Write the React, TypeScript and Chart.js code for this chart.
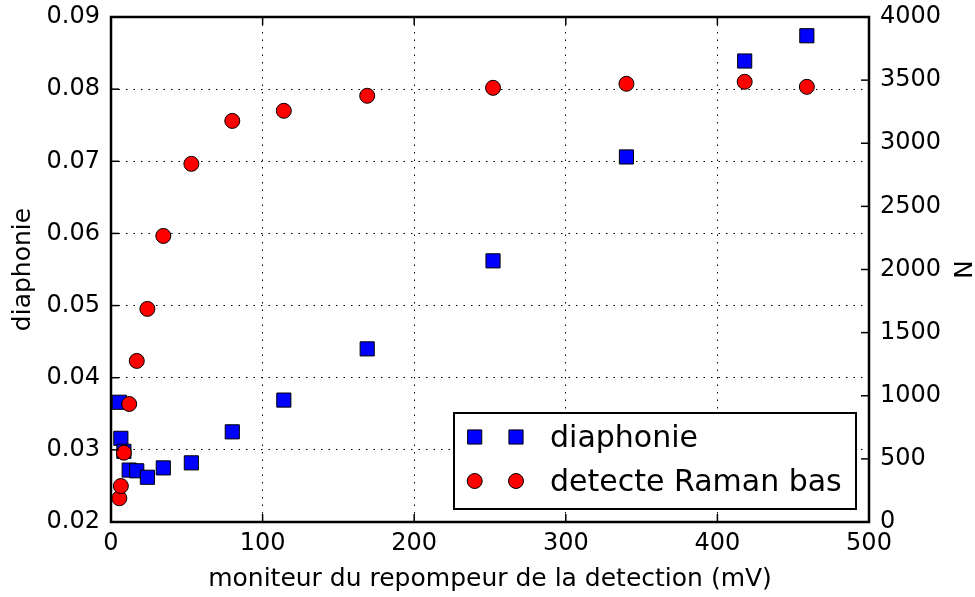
import React, { useEffect, useRef } from "react";
import { Chart, registerables } from "chart.js";

Chart.register(...registerables);

// Shared x values (mV)
const xValues = [5.5, 6.5, 8.5, 12, 17, 24, 34.5, 53, 80, 114, 169, 252, 340, 418, 459];
// diaphonie (left axis)
const diaphonieValues = [0.0366, 0.0316, 0.0298, 0.0272, 0.0271, 0.0262, 0.0275, 0.0282, 0.0325, 0.0369, 0.0440, 0.0562, 0.0706, 0.0839, 0.0874];
// detecte Raman bas (right axis, N)
const ramanValues = [188, 285, 549, 935, 1276, 1688, 2266, 2837, 3177, 3257, 3376, 3439, 3471, 3487, 3447];

const seriesLabels = ["diaphonie", "detecte Raman bas"];
const xTitle = "moniteur du repompeur de la detection (mV)";
const yLeftTitle = "diaphonie";
const yRightTitle = "N";

const FONT = "'DejaVu Sans', sans-serif";

const noPad = (s: any) => {
  s.paddingTop = 0;
  s.paddingBottom = 0;
  s.paddingLeft = 0;
  s.paddingRight = 0;
};

const framePlugin = {
  id: "framePlugin",
  afterDatasetsDraw(chart: any) {
    const { ctx, chartArea, scales } = chart;
    const { left, right, top, bottom } = chartArea;
    ctx.save();
    ctx.strokeStyle = "#000";
    // inward ticks
    ctx.lineWidth = 1.5;
    const tl = 8;
    const xs = scales.x;
    xs.ticks.forEach((t: any) => {
      const px = xs.getPixelForValue(t.value);
      ctx.beginPath();
      ctx.moveTo(px, bottom);
      ctx.lineTo(px, bottom - tl);
      ctx.moveTo(px, top);
      ctx.lineTo(px, top + tl);
      ctx.stroke();
    });
    const yl = scales.y;
    yl.ticks.forEach((t: any) => {
      const py = yl.getPixelForValue(t.value);
      ctx.beginPath();
      ctx.moveTo(left, py);
      ctx.lineTo(left + tl, py);
      ctx.stroke();
    });
    const yr = scales.y1;
    yr.ticks.forEach((t: any) => {
      const py = yr.getPixelForValue(t.value);
      ctx.beginPath();
      ctx.moveTo(right, py);
      ctx.lineTo(right - tl, py);
      ctx.stroke();
    });
    // frame
    ctx.lineWidth = 2.5;
    ctx.strokeRect(left, top, right - left, bottom - top);

    // legend (lower right, inside)
    const boxW = 402;
    const boxH = 96;
    const bx = right - 13 - boxW;
    const by = bottom - 13 - boxH;
    ctx.fillStyle = "#fff";
    ctx.fillRect(bx, by, boxW, boxH);
    ctx.lineWidth = 2;
    ctx.strokeRect(bx, by, boxW, boxH);
    const rows = [24, 68];
    chart.data.datasets.forEach((ds: any, i: number) => {
      const cy = by + rows[i];
      [20.7, 62].forEach((dx) => {
        const cx = bx + dx;
        ctx.fillStyle = ds.backgroundColor;
        ctx.strokeStyle = "#000";
        ctx.lineWidth = 1;
        ctx.beginPath();
        if (ds.pointStyle === "rect") {
          const s = Math.SQRT1_2 * ds.pointRadius;
          ctx.rect(cx - s, cy - s, 2 * s, 2 * s);
        } else {
          ctx.arc(cx, cy, ds.pointRadius, 0, Math.PI * 2);
        }
        ctx.fill();
        ctx.stroke();
      });
      ctx.fillStyle = "#000";
      ctx.font = `30px ${FONT}`;
      ctx.textAlign = "left";
      ctx.textBaseline = "alphabetic";
      ctx.fillText(ds.label, bx + 96, cy + 10);
    });
    ctx.restore();
  },
};

export default function App() {
  const ref = useRef<HTMLCanvasElement | null>(null);
  useEffect(() => {
    if (!ref.current) return;
    const chart = new Chart(ref.current, {
      type: "scatter",
      data: {
        datasets: [
          {
            label: seriesLabels[0],
            data: xValues.map((x, i) => ({ x, y: diaphonieValues[i] })),
            yAxisID: "y",
            pointStyle: "rect",
            pointRadius: 10,
            pointHoverRadius: 10,
            backgroundColor: "#0000ff",
            borderColor: "#000",
            borderWidth: 1,
            order: 1,
          },
          {
            label: seriesLabels[1],
            data: xValues.map((x, i) => ({ x, y: ramanValues[i] })),
            yAxisID: "y1",
            pointStyle: "circle",
            pointRadius: 7.5,
            pointHoverRadius: 7.5,
            backgroundColor: "#ff0000",
            borderColor: "#000",
            borderWidth: 1,
            order: 0,
          },
        ],
      },
      options: {
        responsive: false,
        animation: false,
        events: [],
        layout: { padding: { top: 17, left: 0, right: 0, bottom: 0 } },
        plugins: { legend: { display: false }, tooltip: { enabled: false } },
        scales: {
          x: {
            type: "linear",
            position: "bottom",
            min: 0,
            max: 500,
            afterFit: (s: any) => { s.height = 75; noPad(s); },
            ticks: { stepSize: 100, color: "#000", font: { family: FONT, size: 24 }, padding: 7, maxRotation: 0 },
            grid: { color: "#000", lineWidth: 1, drawTicks: false, borderDash: [1.5, 6] } as any,
            border: { display: false, dash: [1.5, 6] },
            title: { display: true, text: xTitle, color: "#000", font: { family: FONT, size: 25 }, padding: { top: 0, bottom: 3 } },
          },
          y: {
            type: "linear",
            position: "left",
            min: 0.02,
            max: 0.09,
            afterFit: (s: any) => { s.width = 111; noPad(s); },
            ticks: { stepSize: 0.01, color: "#000", font: { family: FONT, size: 24 }, padding: 11, callback: (v: any) => Number(v).toFixed(2) },
            grid: { color: "#000", lineWidth: 1, drawTicks: false, borderDash: [1.5, 6] } as any,
            border: { display: false, dash: [1.5, 6] },
            title: { display: true, text: yLeftTitle, color: "#000", font: { family: FONT, size: 25 }, padding: { top: 8, bottom: 0 } },
          },
          y1: {
            type: "linear",
            position: "right",
            min: 0,
            max: 4000,
            afterFit: (s: any) => { s.width = 106; noPad(s); },
            ticks: { stepSize: 500, color: "#000", font: { family: FONT, size: 24 }, padding: 11, callback: (v: any) => String(v) },
            grid: { display: false, drawOnChartArea: false, drawTicks: false },
            border: { display: false },
            title: { display: true, text: yRightTitle, color: "#000", font: { family: FONT, size: 25 }, padding: { top: 0, bottom: 0 } },
          },
        },
      },
      plugins: [framePlugin],
    } as any);
    return () => chart.destroy();
  }, []);
  return (
    <canvas
      ref={ref}
      width={975}
      height={597}
      style={{ position: "absolute", left: 0, top: 0, display: "block", width: 975, height: 597 }}
    />
  );
}
